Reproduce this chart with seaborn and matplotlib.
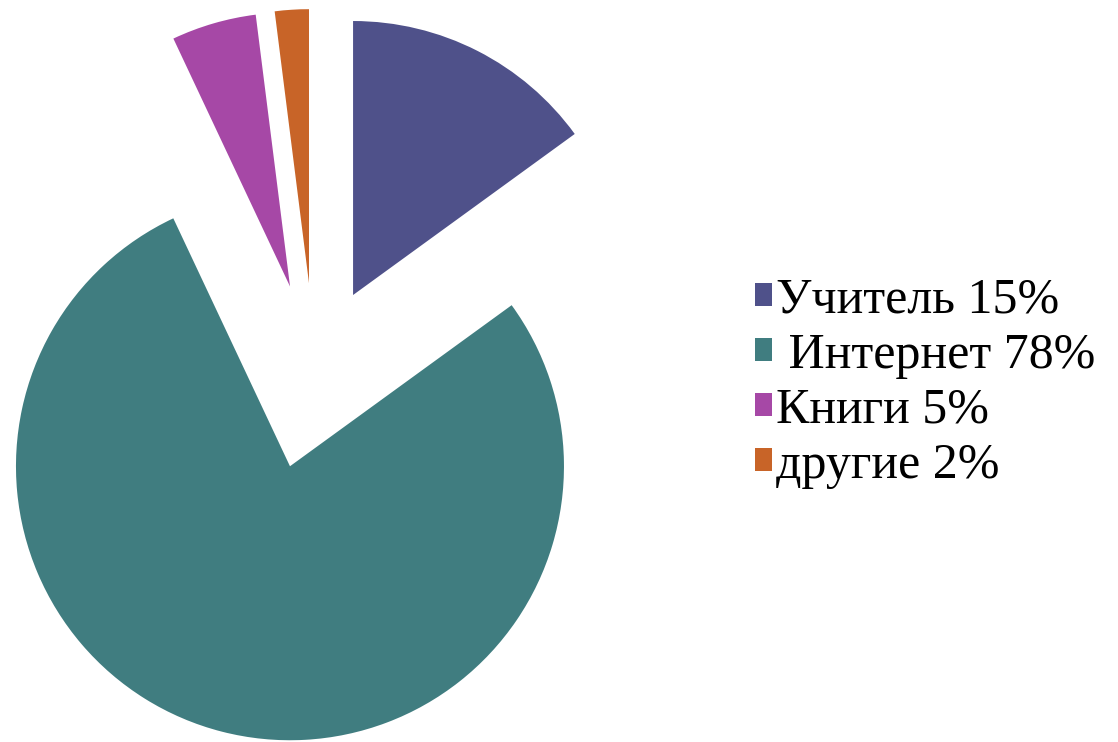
import matplotlib
matplotlib.use('Agg')
import matplotlib.pyplot as plt
import seaborn as sns

labels = ['Учитель 15%', ' Интернет 78%', 'Книги 5%', 'другие 2%']
values = [15, 78, 5, 2]
colors = ['#4f518a', '#407d80', '#a648a6', '#c86428']

sns.set_theme(style='white')
plt.rcParams['font.family'] = ['Liberation Serif', 'DejaVu Serif']

W, H = 1118, 742
fig = plt.figure(figsize=(W / 100, H / 100), dpi=100)
fig.patch.set_facecolor('white')

# pie center (pixels) and radius
cx, cy, R = 314.5, 742 - 370.7, 274
lim = 1.45
size = 2 * lim * R
ax = fig.add_axes([(cx - size / 2) / W, (cy - size / 2) / H, size / W, size / H])

wedges, _ = ax.pie(values, colors=colors, startangle=90, counterclock=False,
                   explode=[0.31, 0.36, 0.32, 0.32], radius=1,
                   wedgeprops={'linewidth': 0})
ax.set_xlim(-lim, lim)
ax.set_ylim(-lim, lim)
ax.set_aspect('equal')
ax.axis('off')

leg = fig.legend(wedges, labels, loc='center left', bbox_to_anchor=(755 / W, 1 - 383 / H),
                 frameon=False, fontsize=36, handlelength=0.33, handleheight=0.33,
                 handletextpad=0.1, labelspacing=0.17, borderpad=0, borderaxespad=0)
for t in leg.get_texts():
    t.set_color('black')

fig.savefig('out.png', dpi=100, facecolor='white')
